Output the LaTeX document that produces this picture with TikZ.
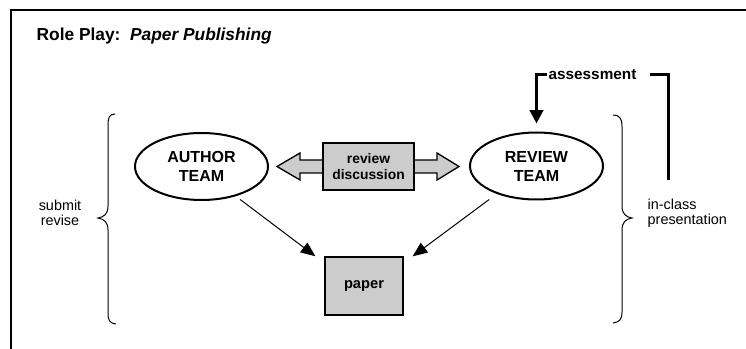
\documentclass[tikz,border=0pt]{standalone}
\usepackage{fontspec}
\setmainfont{Liberation Sans}
\usepackage{tikz}
\usepackage{xcolor}
\usetikzlibrary{positioning, shapes.geometric, arrows.meta, backgrounds}
\definecolor{boxgray}{RGB}{204,204,204}

\begin{document}
\begin{tikzpicture}[x=0.75pt, y=-0.75pt, >={Triangle[length=11pt, width=9pt]}]

        % Définition des styles
        \tikzset{
            team/.style={draw, ellipse, line width=1.5pt, align=center, inner sep=0pt, outer sep=0pt, minimum width=99.75pt, minimum height=50.25pt, font=\fontsize{12}{14.25}\selectfont\bfseries},
            sheet/.style={draw, line width=1.5pt, fill=boxgray, align=center, outer sep=0pt},
            remark/.style={align=center, font=\fontsize{10.8}{11.25}\selectfont},
            flow/.style={->, line width=0.75pt, shorten >=9pt},
            blockarrow/.style={draw, line width=1pt, fill=boxgray},
            assessline/.style={line width=2.25pt},
            curly/.style={line width=0.75pt}
        }

        \useasboundingbox (0,0) rectangle (746,349);

        % Cadre et titre
        \draw[line width=1.5pt] (11,349) -- (11,10.5) -- (746,10.5);
        \node[anchor=base west, font=\fontsize{13}{15}\selectfont\bfseries] (title) at (32,41) {Role Play:\ \ \textit{Paper Publishing}};

        % --- ÉQUIPES ---
        \node[team] (author) at (201.5,166.5) {AUTHOR\\TEAM};
        \node[team] (review) at (536.5,166) {REVIEW\\TEAM};

        % --- CENTRE : discussion et papier ---
        \node[sheet, minimum width=68.25pt, minimum height=35.25pt, font=\fontsize{10.4}{12}\selectfont\bfseries] (discuss) at (368.5,166.5) {review\\discussion};
        \node[sheet, minimum width=58.5pt, minimum height=43.5pt, font=\fontsize{11}{13}\selectfont\bfseries] (paper) at (364,286) {paper};

        % Flèche double (derrière la boîte)
        \begin{scope}[on background layer]
            \draw[blockarrow] (discuss.west) ++(0,-6.5) -- ++(-23,0) -- ++(0,-7) -- ++(-23,13.5) -- ++(23,13.5) -- ++(0,-7) -- ++(23,0) -- cycle;
            \draw[blockarrow] (discuss.east) ++(0,-6.5) -- ++(23,0) -- ++(0,-7) -- ++(22,13.5) -- ++(-22,13.5) -- ++(0,-7) -- ++(-23,0) -- cycle;
        \end{scope}

        % Flèches vers le papier
        \draw[flow, shorten <=5pt] (author.-41) -- (paper.150);
        \draw[flow, shorten <=8pt] (review.-145) -- (paper.30);

        % --- ACCOLADES ---
        \draw[curly] (115,114) .. controls (109,114) and (108,118) .. (108,126) -- (108,206) .. controls (108,214) and (104,217) .. (98,218) .. controls (104,219) and (108,222) .. (108,230) -- (108,312) .. controls (108,320) and (109,323) .. (116,324);
        \draw[curly] (613,115) .. controls (619,115) and (622,118) .. (622,126) -- (622,206) .. controls (622,214) and (626,217) .. (632,218) .. controls (626,219) and (622,222) .. (622,230) -- (622,312) .. controls (622,320) and (619,322) .. (613,323);

        \node[remark] (submit) at (60,213) {submit\\revise};
        \node[remark, align=left, anchor=west] (inclass) at (643,213) {in-class\\presentation};

        % --- ÉVALUATION (retour vers l'équipe de revue) ---
        \node[font=\fontsize{11.5}{13}\selectfont\bfseries, inner xsep=1pt, inner ysep=0pt, outer sep=0pt] (assess) at (592.5,75) {assessment};
        \coordinate (rise) at (668,180);
        \draw[assessline, shorten >=9pt] (rise) |- (assess.east);
        \draw[assessline, -{Triangle[length=10pt, width=10pt]}, shorten >=6.75pt] (assess.west) -| (review.north);

\end{tikzpicture}
\end{document}
